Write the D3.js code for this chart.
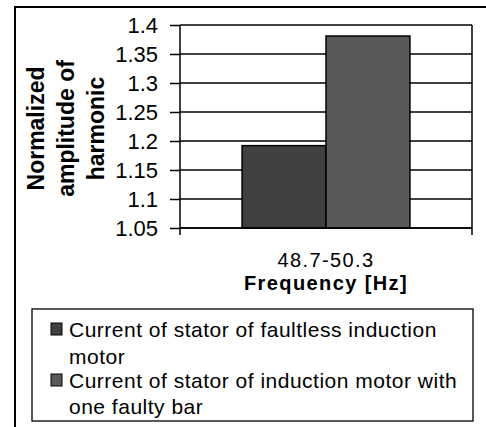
<!DOCTYPE html>
<html>
<head>
<meta charset="utf-8">
<script src="https://cdn.jsdelivr.net/npm/d3@7"></script>
<style>
  body { margin: 0; background: #fff; }
  text { font-family: "Liberation Sans", Arial, sans-serif; fill: #000; }
</style>
</head>
<body>
<div id="chart"></div>
<script>
const categories = ["48.7-50.3"];
const seriesNames = [
  "Current of stator of faultless induction motor",
  "Current of stator of induction motor with one faulty bar",
];
const faultless = [1.192];
const faultyBar = [1.381];
const tickValues = [1.05, 1.1, 1.15, 1.2, 1.25, 1.3, 1.35, 1.4];
const colors = ["#404040", "#595959"];

function draw() {
  const W = 486, H = 427;
  const plot = { left: 180, right: 472, top: 25, bottom: 228 };

  const svg = d3
    .select("#chart")
    .append("svg")
    .attr("width", W)
    .attr("height", H);

  // outer frame (cropped on right and bottom)
  svg.append("rect")
    .attr("x", 15).attr("y", 7)
    .attr("width", 500).attr("height", 450)
    .attr("fill", "none").attr("stroke", "#000").attr("stroke-width", 2);

  const y = d3.scaleLinear([1.05, 1.4], [plot.bottom, plot.top]);
  const x0 = d3.scaleBand(categories, [plot.left, plot.right]).padding(0.27);
  const x1 = d3.scaleBand([0, 1], [0, x0.bandwidth()]).padding(0);

  // gridlines
  svg.append("g")
    .selectAll("line")
    .data(tickValues)
    .join("line")
    .attr("x1", plot.left).attr("x2", plot.right)
    .attr("y1", (d) => y(d)).attr("y2", (d) => y(d))
    .attr("stroke", "#000").attr("stroke-width", 1.5);

  // left axis
  const yAxis = svg.append("g")
    .attr("transform", `translate(${plot.left},0)`)
    .call(d3.axisLeft(y).tickValues(tickValues).tickSize(10).tickSizeOuter(0)
      .tickFormat((d) => String(+d.toFixed(2))));
  yAxis.select(".domain").remove();
  yAxis.selectAll(".tick line").attr("stroke", "#000").attr("stroke-width", 1.5);
  yAxis.selectAll("text")
    .attr("x", -22)
    .attr("dy", "0.35em")
    .style("font-size", "22px");

  // vertical lines: left axis and right edge, extend below bottom
  [plot.left, plot.right].forEach((xx) => {
    svg.append("line")
      .attr("x1", xx).attr("x2", xx)
      .attr("y1", plot.top).attr("y2", plot.bottom + 7)
      .attr("stroke", "#000").attr("stroke-width", 1.5);
  });

  // bars
  const rows = categories.map((c, i) => ({ cat: c, vals: [faultless[i], faultyBar[i]] }));
  svg.append("g")
    .selectAll("g")
    .data(rows)
    .join("g")
    .attr("transform", (d) => `translate(${x0(d.cat)},0)`)
    .selectAll("rect")
    .data((d) => d.vals.map((v, k) => ({ k, v })))
    .join("rect")
    .attr("x", (d) => x1(d.k))
    .attr("y", (d) => y(d.v))
    .attr("width", x1.bandwidth())
    .attr("height", (d) => y(1.05) - y(d.v))
    .attr("fill", (d) => colors[d.k])
    .attr("stroke", "#000")
    .attr("stroke-width", 1.5);

  // bottom axis line
  svg.append("line")
    .attr("x1", plot.left).attr("x2", plot.right)
    .attr("y1", plot.bottom).attr("y2", plot.bottom)
    .attr("stroke", "#000").attr("stroke-width", 1.5);

  // category label and x title
  const cx = x0(categories[0]) + x0.bandwidth() / 2;
  svg.append("text")
    .attr("x", cx)
    .attr("y", 267)
    .attr("text-anchor", "middle")
    .style("font-size", "20px")
    .style("letter-spacing", "1.4px")
    .text(categories[0]);

  svg.append("text")
    .attr("x", cx)
    .attr("y", 290)
    .attr("text-anchor", "middle")
    .style("font-size", "20px")
    .style("font-weight", "bold")
    .style("letter-spacing", "1.4px")
    .text("Frequency [Hz]");

  // y title
  const yTitle = ["Normalized", "amplitude of", "harmonic"];
  svg.append("g")
    .attr("transform", `translate(66,${(plot.top + plot.bottom) / 2 + 2}) rotate(-90)`)
    .selectAll("text")
    .data(yTitle)
    .join("text")
    .attr("x", 0)
    .attr("y", (d, i) => (i - 1) * 30)
    .attr("dy", "0.35em")
    .attr("text-anchor", "middle")
    .style("font-size", "23px")
    .style("font-weight", "bold")
    .text((d) => d);

  // legend
  const legend = svg.append("g");
  legend.append("rect")
    .attr("x", 32).attr("y", 309)
    .attr("width", 441).attr("height", 112)
    .attr("fill", "none").attr("stroke", "#000").attr("stroke-width", 1.3);

  const legendLines = [
    { k: 0, lines: ["Current of stator of faultless induction", "motor"], y: [337, 364] },
    { k: 1, lines: ["Current of stator of induction motor with", "one faulty bar"], y: [388, 414] },
  ];
  legendLines.forEach((item) => {
    legend.append("rect")
      .attr("x", 51).attr("y", item.y[0] - 14)
      .attr("width", 11).attr("height", 12)
      .attr("fill", colors[item.k])
      .attr("stroke", "#000").attr("stroke-width", 1);
    item.lines.forEach((t, j) => {
      legend.append("text")
        .attr("x", 69)
        .attr("y", item.y[j])
        .style("font-size", "21px")
        .style("letter-spacing", "0.5px")
        .text(t);
    });
  });
}

draw();
</script>
</body>
</html>
